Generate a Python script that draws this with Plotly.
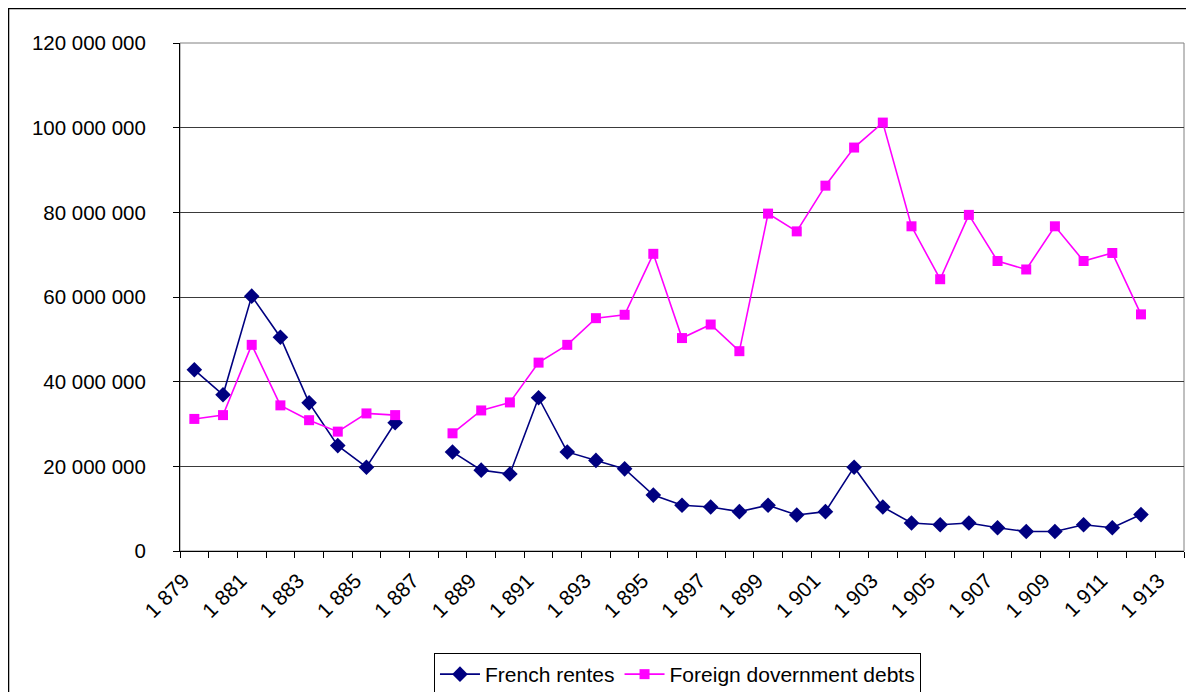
import plotly.graph_objects as go

years = list(range(1879, 1914))

french_rentes = [
    42_800_000, 36_900_000, 60_200_000, 50_500_000, 35_000_000, 24_900_000,
    19_800_000, 30_300_000, None, 23_400_000, 19_100_000, 18_200_000,
    36_200_000, 23_400_000, 21_400_000, 19_400_000, 13_200_000, 10_800_000,
    10_400_000, 9_300_000, 10_800_000, 8_500_000, 9_300_000, 19_800_000,
    10_400_000, 6_600_000, 6_200_000, 6_600_000, 5_500_000, 4_600_000,
    4_600_000, 6_200_000, 5_500_000, 8_600_000, None,
]

foreign_debts = [
    31_200_000, 32_100_000, 48_700_000, 34_400_000, 30_900_000, 28_200_000,
    32_500_000, 32_100_000, None, 27_800_000, 33_200_000, 35_100_000,
    44_500_000, 48_700_000, 55_000_000, 55_800_000, 70_200_000, 50_300_000,
    53_500_000, 47_200_000, 79_700_000, 75_500_000, 86_300_000, 95_300_000,
    101_200_000, 76_700_000, 64_200_000, 79_400_000, 68_500_000, 66_500_000,
    76_700_000, 68_500_000, 70_400_000, 55_900_000, None,
]

label_years = [y for y in years if (y - 1879) % 2 == 0]
boundaries = [y - 0.5 for y in years] + [years[-1] + 0.5]

FONT = "Liberation Sans, Arial, sans-serif"

fig = go.Figure()
fig.add_trace(go.Scatter(
    x=years, y=french_rentes, name="French rentes", mode="lines+markers",
    line=dict(color="#000080", width=1.6),
    marker=dict(symbol="diamond", size=12, color="#000080"),
    connectgaps=False,
))
fig.add_trace(go.Scatter(
    x=years, y=foreign_debts, name="Foreign dovernment debts", mode="lines+markers",
    line=dict(color="#FF00FF", width=1.6),
    marker=dict(symbol="square", size=10, color="#FF00FF"),
    connectgaps=False,
))

fig.update_layout(
    width=1194, height=692,
    margin=dict(l=172, r=18, t=35, b=149),
    paper_bgcolor="white", plot_bgcolor="white",
    separators=". ",
    font=dict(family=FONT, size=20, color="black"),
    showlegend=True,
    legend=dict(
        orientation="h", xref="container", yref="container",
        x=0.5607, xanchor="center", y=0.0679, yanchor="top",
        bordercolor="black", borderwidth=1, bgcolor="white",
        font=dict(size=21), itemwidth=40,
    ),
    xaxis=dict(
        range=[years[0] - 0.5, years[-1] + 0.5],
        tickvals=label_years, tickformat=",d", tickangle=-45,
        ticks="", showgrid=False, zeroline=False, automargin=False,
        showline=True, linecolor="black", linewidth=1,
        minor=dict(tickvals=boundaries, ticks="outside", ticklen=6,
                   tickcolor="black", showgrid=False),
        tickfont=dict(size=21),
        ticklabelstandoff=8, ticklabelshift=-11,
    ),
    yaxis=dict(
        range=[0, 120_000_000], dtick=20_000_000, tickformat=",d",
        ticks="outside", ticklen=6, tickcolor="black", automargin=False,
        showgrid=True, gridcolor="#3a3a3a", gridwidth=1,
        zeroline=False, showline=True, linecolor="black", linewidth=1,
        ticklabelstandoff=23,
        tickfont=dict(size=20.5),
    ),
    shapes=[
        dict(type="rect", xref="paper", yref="paper", x0=0, x1=1, y0=0, y1=1,
             line=dict(color="#808080", width=1), layer="below"),
        dict(type="rect", xref="paper", yref="paper",
             x0=-0.1708, x1=1.05, y0=-0.4, y1=1.0679,
             line=dict(color="black", width=1.5), layer="below"),
    ],
)

fig.write_html("out.html")
